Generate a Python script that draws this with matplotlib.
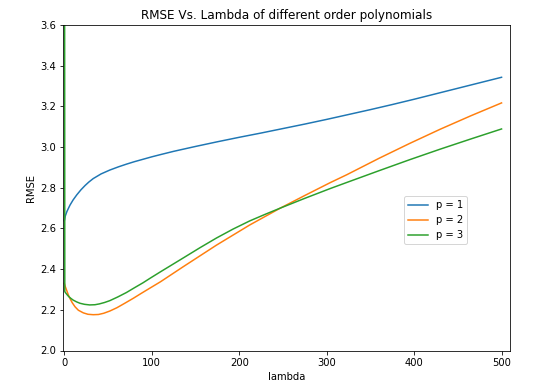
import matplotlib
matplotlib.use("Agg")
import matplotlib.pyplot as plt

lam1 = [0, 1, 3, 6.5, 10, 14.2, 19, 23.7, 28, 33, 42, 52, 62, 71, 80, 90, 100, 110, 125,
        150, 175, 200, 225, 250, 275, 300, 325, 350, 375, 400, 425, 450, 475, 500]
rmse1 = [2.638, 2.66, 2.684, 2.715, 2.74, 2.765, 2.79, 2.811, 2.828, 2.845, 2.868, 2.887, 2.903,
         2.916, 2.928, 2.940, 2.952, 2.963, 2.979, 3.003, 3.026, 3.048, 3.069, 3.091, 3.113,
         3.136, 3.160, 3.184, 3.209, 3.235, 3.262, 3.289, 3.316, 3.343]

lam2 = [0, 1, 2.7, 4.5, 6.5, 9, 12.2, 16, 21.7, 27, 33, 39, 45, 52, 60, 69, 79, 88, 98, 110,
        136, 174, 212, 247, 275, 304, 323, 360, 395, 430, 465, 500]
rmse2 = [2.33, 2.315, 2.295, 2.274, 2.255, 2.235, 2.215, 2.198, 2.185, 2.178, 2.176, 2.177,
         2.183, 2.194, 2.210, 2.232, 2.257, 2.281, 2.307, 2.338, 2.412, 2.518, 2.617, 2.700,
         2.762, 2.825, 2.864, 2.945, 3.018, 3.088, 3.154, 3.217]

lam3 = [0, 0.5, 1, 3, 5, 7.5, 10, 14, 18, 23, 29, 35, 40, 46, 52, 61, 71, 80, 90, 98, 110,
        136, 155, 174, 193, 212, 230, 247, 275, 304, 323, 360, 395, 430, 465, 500]
rmse3 = [6.0, 2.29, 2.286, 2.275, 2.265, 2.256, 2.248, 2.239, 2.232, 2.227, 2.224, 2.225,
         2.229, 2.236, 2.245, 2.263, 2.285, 2.308, 2.333, 2.355, 2.387, 2.455, 2.505, 2.553,
         2.597, 2.637, 2.670, 2.700, 2.748, 2.796, 2.826, 2.884, 2.938, 2.990, 3.040, 3.089]

labels = ["p = 1", "p = 2", "p = 3"]

fig = plt.figure(figsize=(551/72, 384/72), dpi=72)
ax = fig.add_axes([63.3/551, 1 - 350.5/384, (510.3 - 63.3)/551, (350.5 - 25)/384])
ax.plot(lam1, rmse1, color="#1f77b4", label=labels[0])
ax.plot(lam2, rmse2, color="#ff7f0e", label=labels[1])
ax.plot(lam3, rmse3, color="#2ca02c", label=labels[2])
ax.set_ylim(2.0, 3.6)
ax.set_xlim(-1.2, 510)
ax.set_xticks([0, 100, 200, 300, 400, 500])
ax.set_yticks([2.0, 2.2, 2.4, 2.6, 2.8, 3.0, 3.2, 3.4, 3.6])
ax.set_title("RMSE Vs. Lambda of different order polynomials")
ax.set_xlabel("lambda")
ax.set_ylabel("RMSE")
ax.legend(loc="center", bbox_to_anchor=(0.832, 0.40))
fig.savefig("out.png", dpi=72)
